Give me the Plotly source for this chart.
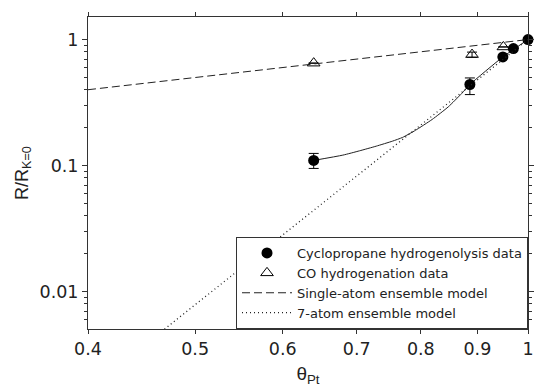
import plotly.graph_objects as go

# ---- data ----
cyclo_x = [0.640, 0.886, 0.949, 0.970, 1.000]
cyclo_y = [0.110, 0.440, 0.728, 0.849, 1.000]
cyclo_err_plus = [0.015, 0.056, 0.0, 0.0, 0.0]
cyclo_err_minus = [0.015, 0.074, 0.0, 0.0, 0.0]

co_x = [0.640, 0.890, 0.950]
co_y = [0.650, 0.760, 0.874]
co_err = [0.0, 0.035, 0.0]

single_x = [0.40, 1.00]
single_y = [0.40, 1.00]

seven_x = [0.46, 1.00]
seven_y = [0.0044, 1.00]

fit_x = [0.640, 0.680, 0.704, 0.729, 0.754, 0.770, 0.791, 0.819, 0.847, 0.871, 0.886, 0.949, 1.000]
fit_y = [0.110, 0.1211, 0.1310, 0.1427, 0.1563, 0.1673, 0.1905, 0.2323, 0.2924, 0.3734, 0.440, 0.728, 1.000]

x_ticks = [0.4, 0.5, 0.6, 0.7, 0.8, 0.9, 1.0]
x_ticktext = ["0.4", "0.5", "0.6", "0.7", "0.8", "0.9", "1"]
y_ticks = [0.01, 0.1, 1]
y_ticktext = ["0.01", "0.1", "1"]
y_minor = [0.005, 0.006, 0.007, 0.008, 0.009,
           0.02, 0.03, 0.04, 0.05, 0.06, 0.07, 0.08, 0.09,
           0.2, 0.3, 0.4, 0.5, 0.6, 0.7, 0.8, 0.9]

INK = "#222222"
AX = "#333333"
FONT = "DejaVu Sans"
Y_RANGE = [-2.296, 0.179]

fig = go.Figure()

fig.add_trace(go.Scatter(x=fit_x, y=fit_y, mode="lines",
                         line=dict(color=INK, width=1, shape="spline", smoothing=0.5),
                         showlegend=False, hoverinfo="skip"))

fig.add_trace(go.Scatter(x=cyclo_x, y=cyclo_y, mode="markers", name="Cyclopropane hydrogenolysis data",
                         marker=dict(symbol="circle", size=11, color="black"),
                         error_y=dict(type="data", array=cyclo_err_plus, arrayminus=cyclo_err_minus,
                                      symmetric=False, color="black", thickness=1, width=5),
                         cliponaxis=False))

fig.add_trace(go.Scatter(x=co_x, y=co_y, mode="markers", name="CO hydrogenation data",
                         marker=dict(symbol="triangle-up-open", size=11, color="black",
                                     line=dict(width=1, color="black")),
                         error_y=dict(type="data", array=co_err, color="black", thickness=1, width=5),
                         cliponaxis=False))

fig.add_trace(go.Scatter(x=single_x, y=single_y, mode="lines", name="Single-atom ensemble model",
                         line=dict(color=INK, width=1, dash="8px,4px")))

fig.add_trace(go.Scatter(x=seven_x, y=seven_y, mode="lines", name="7-atom ensemble model",
                         line=dict(color=INK, width=1.3, dash="1px,3px")))

fig.update_layout(
    width=536, height=389,
    margin=dict(l=88, r=2, t=17, b=60),
    paper_bgcolor="white", plot_bgcolor="white",
    font=dict(family=FONT, color=INK),
    legend=dict(x=1, xanchor="right", y=0, yanchor="bottom",
                bgcolor="white", bordercolor=AX, borderwidth=1,
                font=dict(size=13, family=FONT, color=INK),
                itemwidth=50, tracegroupgap=0),
    xaxis=dict(type="log", range=[-0.39794, 0.0],
               tickmode="array", tickvals=x_ticks, ticktext=x_ticktext,
               tickfont=dict(size=17.5, family=FONT, color=INK),
               ticks="outside", ticklen=4, tickwidth=1, tickcolor=AX,
               showline=True, linecolor=AX, linewidth=1, mirror="ticks",
               showgrid=False, zeroline=False,
               title=dict(text="θ<sub>Pt</sub>", font=dict(size=19, family="Liberation Sans", color=INK),
                          standoff=8)),
    yaxis=dict(type="log", range=Y_RANGE,
               tickmode="array", tickvals=y_ticks, ticktext=y_ticktext,
               tickfont=dict(size=17.5, family=FONT, color=INK),
               ticks="outside", ticklen=5, tickwidth=1, tickcolor=AX,
               minor=dict(tickvals=y_minor, ticks="outside", ticklen=3, tickcolor=AX, showgrid=False),
               showline=True, linecolor=AX, linewidth=1, mirror="ticks",
               showgrid=False, zeroline=False,
               title=dict(text="R/R<sub>K=0</sub>", font=dict(size=18, family="Liberation Sans", color=INK),
                          standoff=6)),
    yaxis2=dict(type="log", range=Y_RANGE, overlaying="y", anchor="x", side="left",
                tickmode="array", tickvals=y_ticks, showticklabels=False,
                ticks="inside", ticklen=5, tickwidth=1, tickcolor=AX,
                showline=False, showgrid=False, zeroline=False),
)

fig.write_html("out.html")
